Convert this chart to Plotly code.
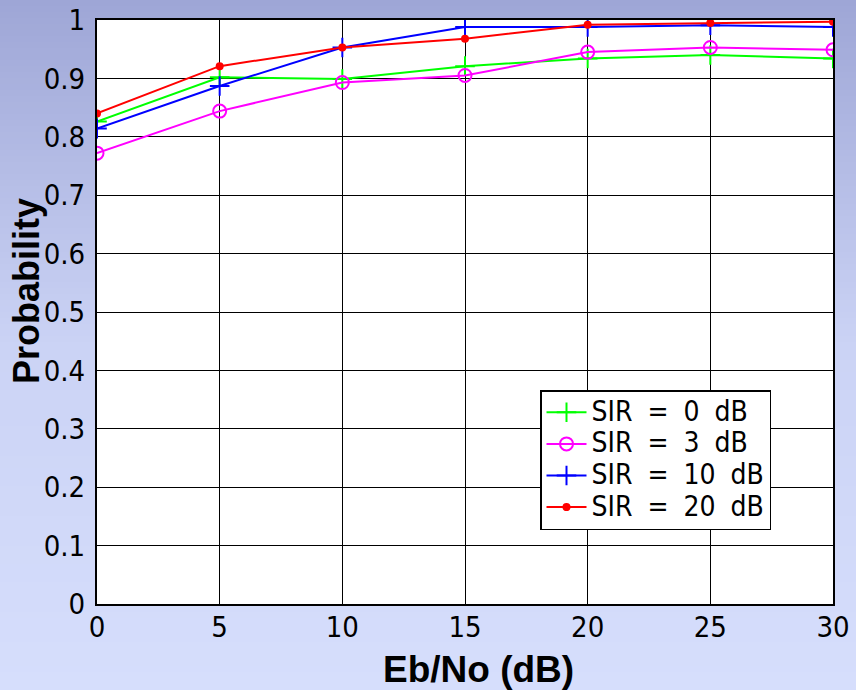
import plotly.graph_objects as go

# Eb/No sweep (dB)
ebno_db = [0, 5, 10, 15, 20, 25, 30]

# Detection probability for each signal-to-interference ratio
prob_sir_0 = [0.826, 0.902, 0.899, 0.921, 0.934, 0.940, 0.934]
prob_sir_3 = [0.772, 0.844, 0.893, 0.905, 0.945, 0.953, 0.949]
prob_sir_10 = [0.814, 0.887, 0.953, 0.988, 0.988, 0.991, 0.988]
prob_sir_20 = [0.840, 0.921, 0.953, 0.968, 0.992, 0.995, 0.997]

series_names = ["SIR = 0 dB", "SIR = 3 dB", "SIR = 10 dB", "SIR = 20 dB"]

x_ticks = [0, 5, 10, 15, 20, 25, 30]
y_ticks = [0, 0.1, 0.2, 0.3, 0.4, 0.5, 0.6, 0.7, 0.8, 0.9, 1]
y_tick_text = ["0", "0.1", "0.2", "0.3", "0.4", "0.5", "0.6", "0.7", "0.8", "0.9", "1"]

x_title = "Eb/No (dB)"
y_title = "Probability"

W, H = 856, 690
ML, MR, MT, MB = 97, 23, 20, 86
PW, PH = W - ML - MR, H - MT - MB

NARROW = "DejaVu Sans Condensed, Liberation Sans Narrow, sans-serif"
BOLD = "Liberation Sans, Arial, sans-serif"

styles = [
    dict(color="#00ff00", symbol="cross-thin-open", size=14),
    dict(color="#ff00ff", symbol="circle-open", size=13),
    dict(color="#0000ff", symbol="cross-thin-open", size=14),
    dict(color="#ff0000", symbol="circle", size=6),
]

fig = go.Figure()
for name, ys, st in zip(series_names, [prob_sir_0, prob_sir_3, prob_sir_10, prob_sir_20], styles):
    fig.add_trace(go.Scatter(
        x=ebno_db, y=ys,
        # legend rows are spaced by the legend font; the label itself is drawn larger and airier
        name='<span style="font-size:28px;word-spacing:7px">%s</span>' % name,
        mode="lines+markers",
        line=dict(color=st["color"], width=2),
        marker=dict(symbol=st["symbol"], size=st["size"], color=st["color"],
                    line=dict(color=st["color"], width=2)),
    ))

# Vertical gradient page background, drawn as thin bands in paper coordinates
def lerp(c1, c2, t):
    return tuple(round(a + (b - a) * t) for a, b in zip(c1, c2))

stops = [(0.0, (158, 166, 214)), (0.5, (203, 211, 245)), (1.0, (214, 222, 252))]

def grad(t):
    for (t0, c0), (t1, c1) in zip(stops[:-1], stops[1:]):
        if t <= t1:
            return lerp(c0, c1, (t - t0) / (t1 - t0))
    return stops[-1][1]

shapes = []
band = 6
for top in range(0, H, band):
    c = grad((top + band / 2) / H)
    y_hi = (H - MB - top) / PH
    y_lo = (H - MB - top - band - 1) / PH
    shapes.append(dict(
        type="rect", xref="paper", yref="paper", layer="below",
        x0=-ML / PW - 0.01, x1=1 + MR / PW + 0.01, y0=y_lo, y1=y_hi,
        fillcolor="rgb(%d,%d,%d)" % c, line=dict(width=0),
    ))
shapes.append(dict(type="rect", xref="paper", yref="paper", layer="below",
                   x0=0, x1=1, y0=0, y1=1, fillcolor="white", line=dict(width=0)))

annotations = [
    dict(text="<b>%s</b>" % x_title, xref="paper", yref="paper",
         x=(478 - ML) / PW, y=(H - MB - 670) / PH, xanchor="center", yanchor="middle",
         showarrow=False, font=dict(family=BOLD, size=37, color="black")),
    dict(text="<b>%s</b>" % y_title, xref="paper", yref="paper", textangle=-90,
         x=(26 - ML) / PW, y=(H - MB - 291) / PH, xanchor="center", yanchor="middle",
         showarrow=False, font=dict(family=BOLD, size=36, color="black")),
]

fig.update_layout(
    width=W, height=H,
    margin=dict(l=ML, r=MR, t=MT, b=MB, autoexpand=False),
    paper_bgcolor="#d6defc",
    plot_bgcolor="white",
    shapes=shapes,
    annotations=annotations,
    showlegend=True,
    legend=dict(
        x=(540 - ML) / PW, y=(H - MB - 390) / PH, xanchor="left", yanchor="top",
        bgcolor="white", bordercolor="black", borderwidth=1.5,
        font=dict(family=NARROW, size=22, color="black"),
        tracegroupgap=0, itemwidth=40,
    ),
    xaxis=dict(
        range=[0, 30], tickvals=x_ticks, ticktext=[str(v) for v in x_ticks],
        showgrid=True, gridcolor="black", gridwidth=1, zeroline=False,
        showline=True, linecolor="black", linewidth=2, mirror=True,
        ticks="", ticklabelstandoff=-4,
        tickfont=dict(family=NARROW, size=29, color="black"),
    ),
    yaxis=dict(
        range=[0, 1], tickvals=y_ticks, ticktext=y_tick_text,
        showgrid=True, gridcolor="black", gridwidth=1, zeroline=False,
        showline=True, linecolor="black", linewidth=2, mirror=True,
        ticks="", ticklabelstandoff=4,
        tickfont=dict(family=NARROW, size=29, color="black"),
    ),
)

fig.write_html("out.html")
